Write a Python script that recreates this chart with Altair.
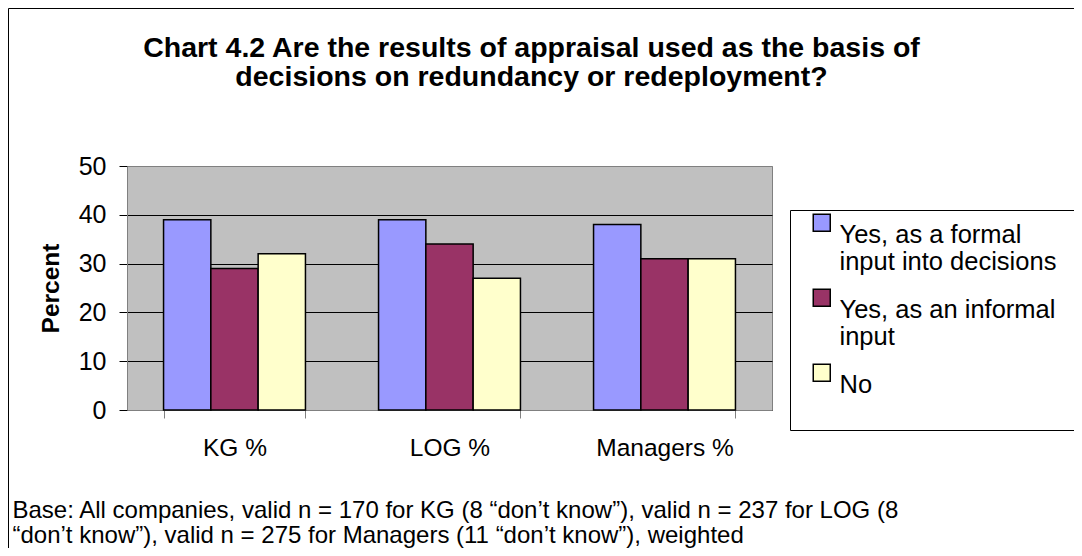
import altair as alt
import pandas as pd

# ---- data ----
categories = ["KG %", "LOG %", "Managers %"]
series = ["Yes, as a formal input into decisions", "Yes, as an informal input", "No"]
formal = [39, 39, 38]
informal = [29, 34, 31]
no_vals = [32, 27, 31]
colors = ["#9999FF", "#993366", "#FFFFCC"]
y_ticks = [0, 10, 20, 30, 40, 50]
title_lines = [
    "Chart 4.2 Are the results of appraisal used as the basis of",
    "decisions on redundancy or redeployment?",
]
footnote_lines = [
    "Base: All companies, valid n = 170 for KG (8 \u201cdon\u2019t know\u201d), valid n = 237 for LOG (8",
    "\u201cdon\u2019t know\u201d), valid n = 275 for Managers (11 \u201cdon\u2019t know\u201d), weighted",
]

rows = []
for s, vals in zip(series, [formal, informal, no_vals]):
    for c, v in zip(categories, vals):
        rows.append({"category": c, "series": s, "value": v})
df = pd.DataFrame(rows)

FONT = "Liberation Sans"
W, H = 645, 244
PAD_L, PAD_T = 119, 158
TOTAL_W, TOTAL_H = 1066, 540

label_expr = (
    "datum.label == 'Yes, as a formal input into decisions' ? ['Yes, as a formal', 'input into decisions'] : "
    "datum.label == 'Yes, as an informal input' ? ['Yes, as an informal', 'input'] : datum.label"
)

bars = alt.Chart(df).mark_bar(stroke="black", strokeWidth=1.5).encode(
    x=alt.X(
        "category:N",
        sort=categories,
        scale=alt.Scale(paddingInner=0.34, paddingOuter=0.17),
        axis=alt.Axis(
            title=footnote_lines,
            titleX=-115,
            titleY=107,
            titleAlign="left",
            titleBaseline="alphabetic",
            titleAngle=0,
            titleFontSize=24,
            titleFontWeight="normal",
            titleLineHeight=25,
            titleLimit=3000,
            titleColor="black",
            labelAngle=0,
            labelFontSize=24.5,
            labelBaseline="alphabetic",
            labelPadding=37,
            labelColor="black",
            tickBand="extent",
            tickSize=8,
            tickColor="#808080",
            domainColor="#808080",
            grid=False,
        ),
    ),
    xOffset=alt.XOffset("series:N", sort=series, scale=alt.Scale(paddingInner=0, paddingOuter=0)),
    y=alt.Y(
        "value:Q",
        scale=alt.Scale(domain=[0, 50], nice=False),
        axis=alt.Axis(
            values=y_ticks,
            title="Percent",
            titleFontSize=24.5,
            titleFontWeight="bold",
            titleColor="black",
            titleX=-76,
            titleY=122,
            titleAngle=270,
            titleAlign="center",
            titleBaseline="middle",
            labelFontSize=25,
            labelPadding=13,
            labelColor="black",
            tickSize=8,
            tickColor="black",
            domainColor="#808080",
            grid=True,
            gridColor={"condition": {"test": "datum.value === 50", "value": "#808080"}, "value": "black"},
            gridWidth=1,
        ),
    ),
    color=alt.Color(
        "series:N",
        sort=series,
        scale=alt.Scale(domain=series, range=colors),
        legend=alt.Legend(
            title=None,
            orient="none",
            direction="vertical",
            legendX=682,
            legendY=44,
            padding=0,
            symbolType="square",
            symbolSize=289,
            symbolStrokeColor="black",
            symbolStrokeWidth=1.5,
            labelFontSize=25.5,
            labelBaseline="top",
            labelOffset=5,
            labelLimit=600,
            labelColor="black",
            rowPadding=9,
            labelExpr=label_expr,
        ),
    ),
)

deco = pd.DataFrame({"k": [0]})
frame = alt.Chart(deco).mark_rect(fill="transparent", stroke="black", strokeWidth=1).encode(
    x=alt.value(-118.5), x2=alt.value(1300), y=alt.value(-157.5), y2=alt.value(700)
)
legend_box = alt.Chart(deco).mark_rect(fill="white", stroke="black", strokeWidth=1).encode(
    x=alt.value(663.5), x2=alt.value(1300), y=alt.value(44.5), y2=alt.value(264.5)
)

chart = alt.layer(frame, legend_box, bars).properties(
    width=W,
    height=H,
    padding={"left": PAD_L, "top": PAD_T, "right": TOTAL_W - PAD_L - W, "bottom": TOTAL_H - PAD_T - H},
    autosize=alt.AutoSizeParams(type="none"),
    title=alt.TitleParams(
        text=title_lines,
        fontSize=28.5,
        fontWeight="bold",
        font=FONT,
        color="black",
        anchor="middle",
        frame="group",
        baseline="alphabetic",
        lineHeight=29.5,
        offset=-106.5,
        dx=82,
    ),
).configure(
    font=FONT,
    background="white",
).configure_view(
    fill="#C0C0C0",
    stroke="#808080",
    strokeWidth=1,
)

chart.save("out.html", embed_options={"renderer": "svg", "actions": False})
